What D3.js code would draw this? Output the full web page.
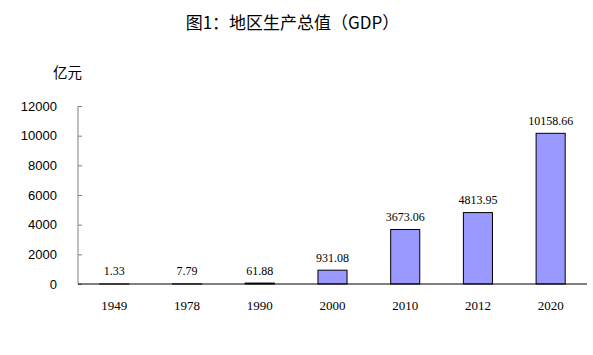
<!DOCTYPE html>
<html><head><meta charset="utf-8">
<script src="https://cdn.jsdelivr.net/npm/d3@7"></script>
<style>body{margin:0;background:#fff}svg{display:block}</style>
</head><body>
<script>
const title = "图1：地区生产总值（GDP）";
const unit = "亿元";
const years = ["1949","1978","1990","2000","2010","2012","2020"];
const values = [1.33, 7.79, 61.88, 931.08, 3673.06, 4813.95, 10158.66];
const labels = ["1.33","7.79","61.88","931.08","3673.06","4813.95","10158.66"];
const yTicks = [0,2000,4000,6000,8000,10000,12000];

const W = 593, H = 355;
const svg = d3.select("body").append("svg").attr("width", W).attr("height", H);

const x = d3.scaleBand().domain(years).range([78, 587]).paddingInner(0.6).paddingOuter(0.3);
const y = d3.scaleLinear().domain([0, 12000]).range([284, 106]);

svg.append("text").attr("x", 292.5).attr("y", 29).attr("text-anchor","middle")
  .attr("font-family","'Noto Sans CJK SC'").attr("font-size",17).attr("fill","#000").text(title);
svg.append("text").attr("x", 53).attr("y", 78)
  .attr("font-family","'Noto Sans CJK SC'").attr("font-size",14.5).attr("fill","#000").text(unit);

const yAxis = svg.append("g").attr("transform","translate(78,0)")
  .call(d3.axisRight(y).tickValues(yTicks).tickSize(4).tickFormat(""));
yAxis.select(".domain").attr("stroke","#808080").attr("d","M0,106V284");
yAxis.selectAll(".tick line").attr("stroke","#808080");

svg.selectAll(".ylab").data(yTicks).join("text").attr("class","ylab")
  .attr("x", 57).attr("y", d => y(d)+4.5).attr("text-anchor","end")
  .attr("font-family","'Liberation Sans', Arial").attr("font-size",13).attr("fill","#000").text(d=>d);

svg.selectAll(".bar").data(values).join("rect").attr("class","bar")
  .attr("x",(d,i)=>x(years[i])).attr("width",x.bandwidth())
  .attr("y",d=>y(d)).attr("height",d=>y(0)-y(d))
  .attr("fill","#9999FF").attr("stroke","#000").attr("stroke-width",1);

const xAxis = svg.append("g").attr("transform","translate(0,284)")
  .call(d3.axisBottom(x).tickSize(0).tickFormat(""));
xAxis.select(".domain").attr("stroke","#000").attr("stroke-width",1).attr("d","M78,0H587");

svg.selectAll(".xlab").data(years).join("text").attr("class","xlab")
  .attr("x", d=>x(d)+x.bandwidth()/2).attr("y", 310).attr("text-anchor","middle")
  .attr("font-family","'Liberation Serif', serif").attr("font-size",13).attr("fill","#000").text(d=>d);

svg.selectAll(".vlab").data(values).join("text").attr("class","vlab")
  .attr("x",(d,i)=>x(years[i])+x.bandwidth()/2).attr("y",d=>y(d)-8.5).attr("text-anchor","middle")
  .attr("font-family","'Liberation Serif', serif").attr("font-size",12).attr("fill","#000")
  .text((d,i)=>labels[i]);
</script>
</body></html>
